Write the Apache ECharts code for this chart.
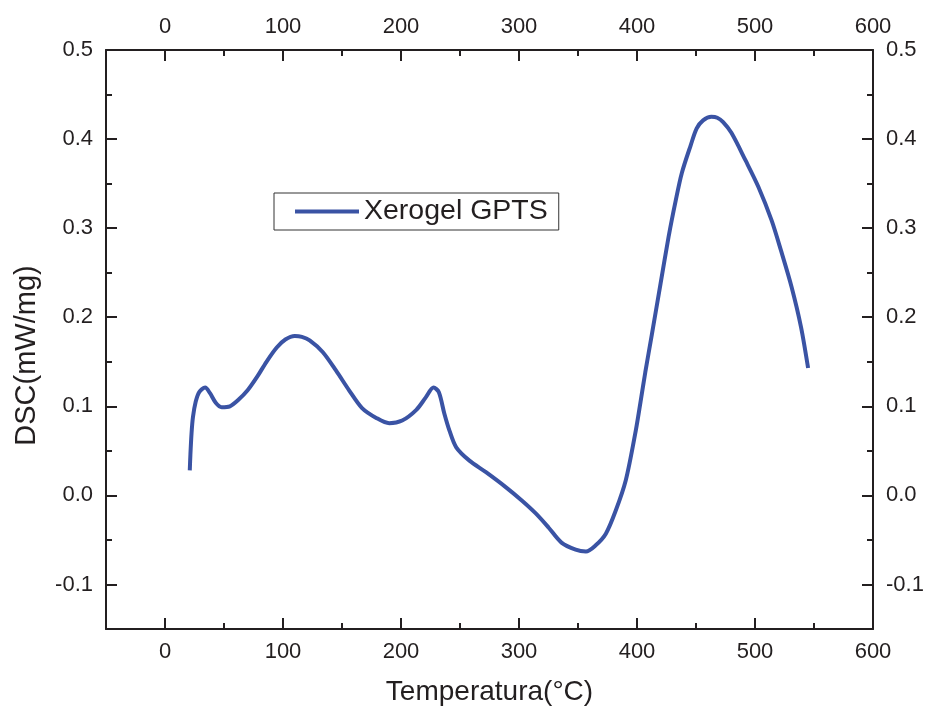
<!DOCTYPE html>
<html>
<head>
<meta charset="utf-8">
<script src="https://cdn.jsdelivr.net/npm/echarts@6/dist/echarts.min.js"></script>
<style>
  html, body { margin: 0; padding: 0; background: #fff; }
  #chart { width: 927px; height: 713px; }
</style>
</head>
<body>
<div id="chart"></div>
<script>
// temperature (°C) and DSC (mW/mg)
var temps = [21, 21.5, 22.5, 23.7, 26, 29, 34, 38, 43, 48, 55, 62, 70, 78, 86, 94.7, 102, 110, 116, 122.6,
  133.6, 145, 156, 167, 179, 190, 201, 213, 221, 227.6, 232, 236.7, 241, 246.8, 258, 272, 289, 302.6,
  314, 325, 336, 348, 356.7, 365, 373.6, 382, 390.5, 399, 403, 407, 412.5, 420, 427, 432.8, 438,
  445.5, 450.6, 456, 463, 468, 473, 480, 492, 503, 514, 522, 531, 539, 545];
var dsc = [0.028, 0.045, 0.07, 0.088, 0.105, 0.116, 0.121, 0.115, 0.104, 0.099, 0.100, 0.107, 0.118, 0.133,
  0.150, 0.166, 0.175, 0.179, 0.178, 0.174,
  0.161, 0.140, 0.118, 0.098, 0.087, 0.081, 0.084, 0.096, 0.110, 0.121, 0.116, 0.092, 0.073, 0.054,
  0.039, 0.026, 0.009, -0.006,
  -0.020, -0.036, -0.053, -0.061, -0.063, -0.056, -0.043, -0.017, 0.017, 0.073, 0.105, 0.138, 0.180,
  0.238, 0.292, 0.331, 0.362,
  0.393, 0.412, 0.421, 0.425, 0.424, 0.419, 0.407, 0.376, 0.346, 0.309, 0.275, 0.234, 0.189, 0.143];

var xMajor = [0, 100, 200, 300, 400, 500, 600];
var xMinor = [-50, 50, 150, 250, 350, 450, 550];
var yMajor = [-0.1, 0, 0.1, 0.2, 0.3, 0.4, 0.5];
var yMinor = [-0.15, -0.05, 0.05, 0.15, 0.25, 0.35, 0.45];

var seriesName = 'Xerogel GPTS';
var lineColor = '#3a53a4';
var axisColor = '#231f20';
var fontFamily = '"Liberation Sans", Arial, sans-serif';

var points = temps.map(function (t, i) { return [t, dsc[i]]; });

function xAxisOf(pos, ticks, major, name) {
  return {
    type: 'value', position: pos, min: -50, max: 600,
    name: name || '', nameLocation: 'middle', nameGap: 49,
    nameTextStyle: { fontSize: 28, color: '#231f20', fontFamily: fontFamily },
    axisLine: { show: major, onZero: false, lineStyle: { color: axisColor, width: 2 } },
    axisTick: { show: true, inside: true, length: major ? 11 : 6, customValues: ticks,
      lineStyle: { color: axisColor, width: 2 } },
    axisLabel: { show: major, customValues: ticks, margin: 12, fontSize: 22, color: '#231f20', fontFamily: fontFamily },
    splitLine: { show: false }
  };
}
function yAxisOf(pos, ticks, major, name) {
  return {
    type: 'value', position: pos, min: -0.15, max: 0.5,
    name: name || '', nameLocation: 'middle', nameGap: 65,
    nameTextStyle: { fontSize: 29, color: '#231f20', fontFamily: fontFamily, padding: [0, 32, 0, 0] },
    axisLine: { show: major, onZero: false, lineStyle: { color: axisColor, width: 2 } },
    axisTick: { show: true, inside: true, length: major ? 11 : 6, customValues: ticks,
      lineStyle: { color: axisColor, width: 2 } },
    axisLabel: { show: major, customValues: ticks, margin: 13, fontSize: 22, color: '#231f20', fontFamily: fontFamily,
      formatter: function (v) { return v.toFixed(1); } },
    splitLine: { show: false }
  };
}

var chart = echarts.init(document.getElementById('chart'));
chart.setOption({
  backgroundColor: '#fff',
  animation: false,
  grid: { left: 106, right: 54, top: 50, bottom: 84 },
  legend: {
    left: 274, top: 193,
    padding: [4, 11, 4, 21],
    borderColor: '#333', borderWidth: 1,
    itemWidth: 64, itemHeight: 4, icon: 'rect', itemGap: 8,
    textStyle: { fontSize: 28.5, color: '#231f20', fontFamily: fontFamily },
    data: [seriesName]
  },
  xAxis: [
    xAxisOf('bottom', xMajor, true, 'Temperatura(°C)'),
    xAxisOf('top', xMajor, true),
    xAxisOf('bottom', xMinor, false),
    xAxisOf('top', xMinor, false)
  ],
  yAxis: [
    yAxisOf('left', yMajor, true, 'DSC(mW/mg)'),
    yAxisOf('right', yMajor, true),
    yAxisOf('left', yMinor, false),
    yAxisOf('right', yMinor, false)
  ],
  series: [{
    name: seriesName,
    type: 'line',
    xAxisIndex: 0, yAxisIndex: 0,
    data: points,
    smooth: 0.3,
    showSymbol: false,
    itemStyle: { color: lineColor },
    lineStyle: { color: lineColor, width: 4 }
  }]
});
</script>
</body>
</html>
